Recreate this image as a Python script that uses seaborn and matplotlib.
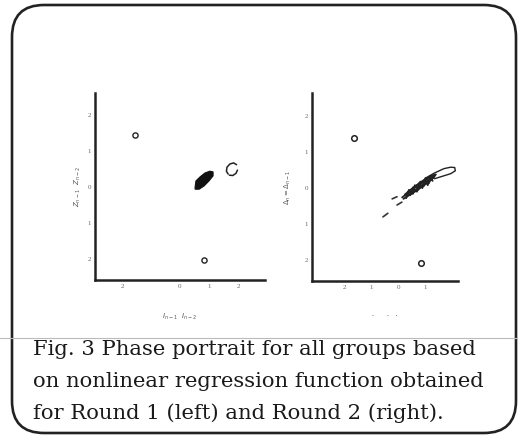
import matplotlib
matplotlib.use("Agg")
import matplotlib.pyplot as plt
import seaborn as sns
from matplotlib.patches import FancyBboxPatch

sns.set_style("white")
plt.rcParams["font.family"] = ["Liberation Serif", "DejaVu Serif"]

# Round 1 (left panel)
r1_ticks_x = [-2, 0, 1, 2]
r1_ticks_y = [-2, -1, 0, 1, 2]
r1_fixed_x = [-1.55, 0.83]
r1_fixed_y = [1.44, -2.03]
r1_blob_x = [0.52, 0.55, 0.69, 0.86, 1.03, 1.14, 1.14, 1.00, 0.83, 0.66, 0.52, 0.52]
r1_blob_y = [0.00, 0.17, 0.28, 0.39, 0.44, 0.42, 0.31, 0.17, 0.03, -0.06, -0.06, 0.00]
r1_loop_x = [1.95, 1.85, 1.72, 1.62, 1.60, 1.66]
r1_loop_y = [0.62, 0.67, 0.64, 0.55, 0.44, 0.36]
r1_loop2_x = [1.70, 1.82, 1.93, 1.98]
r1_loop2_y = [0.33, 0.32, 0.38, 0.47]

# Round 2 (right panel)
r2_ticks_x = [-2, -1, 0, 1]
r2_ticks_y = [-2, -1, 0, 1, 2]
r2_fixed_x = [-1.63, 0.85]
r2_fixed_y = [1.39, -2.08]
r2_outer_x = [1.00, 1.35, 1.70, 1.95, 2.10, 2.12, 1.95, 1.65, 1.35]
r2_outer_y = [0.27, 0.42, 0.54, 0.58, 0.57, 0.48, 0.40, 0.33, 0.26]
r2_band_x = [[0.15, 0.45, 0.80, 1.15, 1.35, 1.25, 0.90, 0.55, 0.20],
             [0.25, 0.55, 0.85, 1.20, 1.40, 1.30, 0.95, 0.60, 0.30],
             [0.35, 0.65, 0.95, 1.25, 1.32, 1.10, 0.80, 0.50, 0.35],
             [0.30, 0.40, 0.55, 0.62, 0.75, 0.82, 0.95, 1.02, 1.15, 1.20],
             [0.45, 0.55, 0.70, 0.78, 0.90, 1.00, 1.10, 1.18, 1.28]]
r2_band_y = [[-0.26, -0.08, 0.10, 0.28, 0.36, 0.24, 0.05, -0.13, -0.30],
             [-0.18, 0.00, 0.16, 0.33, 0.38, 0.28, 0.10, -0.08, -0.22],
             [-0.12, 0.06, 0.22, 0.34, 0.30, 0.16, 0.00, -0.16, -0.12],
             [-0.28, -0.05, -0.16, 0.08, -0.05, 0.18, 0.05, 0.28, 0.14, 0.32],
             [-0.20, 0.02, -0.10, 0.14, 0.00, 0.24, 0.08, 0.32, 0.20]]
r2_dash_x = [[-0.56, -0.38], [-0.22, -0.04], [-0.04, 0.14]]
r2_dash_y = [[-0.80, -0.70], [-0.30, -0.24], [-0.47, -0.39]]

fig = plt.figure(figsize=(5.18, 4.38), dpi=100)

# rounded frame and scan line
frame = FancyBboxPatch((0.12, 0.05), 5.04, 4.28, boxstyle="round,pad=0,rounding_size=0.32",
                       transform=fig.dpi_scale_trans, fill=False, lw=1.9, ec="#222222")
fig.patches.append(frame)
fig.add_artist(plt.Line2D([0, 1], [1 - 338 / 438, 1 - 338 / 438], transform=fig.transFigure,
                          color="#bbbbbb", lw=0.8))


def style_axes(ax, xlim, ylim, xt, yt):
    ax.set_xlim(*xlim)
    ax.set_ylim(*ylim)
    ax.set_xticks(xt)
    ax.set_yticks(yt)
    ax.set_xticklabels([str(abs(v)) for v in xt], fontsize=5, color="#555555")
    ax.set_yticklabels([str(abs(v)) for v in yt], fontsize=5, color="#555555")
    ax.tick_params(direction="inout", length=4, width=0.8, pad=1, colors="#333333",
                   labelcolor="#666666")
    sns.despine(ax=ax)
    for s in ["left", "bottom"]:
        ax.spines[s].set_linewidth(1.8)
        ax.spines[s].set_color("#222222")
    ax.set_facecolor("none")


# left panel
ax1 = fig.add_axes([95 / 518, 1 - 280 / 438, 170 / 518, 187 / 438])
style_axes(ax1, (-2.93, 2.93), (-2.58, 2.61), r1_ticks_x, r1_ticks_y)
sns.scatterplot(x=r1_fixed_x, y=r1_fixed_y, ax=ax1, marker="o", s=14,
                facecolor="white", edgecolor="#222222", linewidth=1.0)
ax1.fill(r1_blob_x, r1_blob_y, color="#111111", lw=0.8)
sns.lineplot(x=r1_loop_x, y=r1_loop_y, ax=ax1, sort=False, estimator=None, color="#222222", lw=1.1)
sns.lineplot(x=r1_loop2_x, y=r1_loop2_y, ax=ax1, sort=False, estimator=None, color="#222222", lw=1.1)
ax1.set_xlabel("$I_{n-1}$   $I_{n-2}$", fontsize=5, color="#555555", labelpad=16)
ax1.set_ylabel("$Z_{n-1}$   $Z_{n-2}$", fontsize=5, color="#555555", labelpad=3)

# right panel
ax2 = fig.add_axes([312 / 518, 1 - 281 / 438, 146 / 518, 188 / 438])
style_axes(ax2, (-3.19, 2.22), (-2.58, 2.64), r2_ticks_x, r2_ticks_y)
sns.scatterplot(x=r2_fixed_x, y=r2_fixed_y, ax=ax2, marker="o", s=16,
                facecolor="white", edgecolor="#222222", linewidth=1.1)
sns.lineplot(x=r2_outer_x, y=r2_outer_y, ax=ax2, sort=False, estimator=None, color="#222222", lw=1.0)
for bx, by in zip(r2_band_x, r2_band_y):
    sns.lineplot(x=bx, y=by, ax=ax2, sort=False, estimator=None, color="#222222", lw=1.3)
for dx, dy in zip(r2_dash_x, r2_dash_y):
    sns.lineplot(x=dx, y=dy, ax=ax2, sort=False, estimator=None, color="#333333", lw=1.2)
ax2.set_xlabel(".      .   .", fontsize=6, color="#555555", labelpad=14)
ax2.set_ylabel("$\\Delta_n = \\Delta_{n-1}$", fontsize=5, color="#555555", labelpad=8)

# caption
caption = ["Fig. 3 Phase portrait for all groups based",
           "on nonlinear regression function obtained",
           "for Round 1 (left) and Round 2 (right)."]
for i, line in enumerate(caption):
    fig.text(33 / 518, 1 - (355 + 32 * i) / 438, line, fontsize=15.2, family="DejaVu Serif",
             color="#1a1a1a", va="baseline", ha="left")

fig.savefig("out.png", dpi=100)
